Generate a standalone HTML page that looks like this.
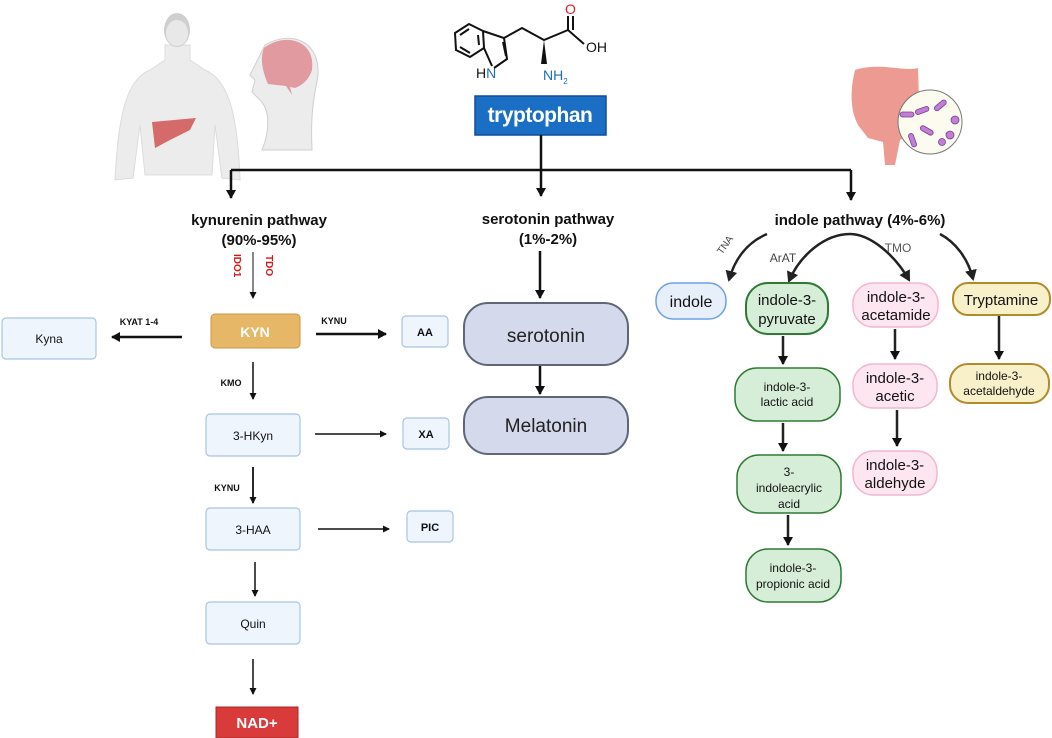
<!DOCTYPE html>
<html><head><meta charset="utf-8"><style>
html,body{margin:0;padding:0;background:#fff;}
svg{display:block;}
text{font-family:"Liberation Sans",sans-serif;}
</style></head><body>
<svg width="1052" height="738" viewBox="0 0 1052 738" xmlns="http://www.w3.org/2000/svg">
<defs>
<marker id="ah" markerWidth="10" markerHeight="10" refX="8" refY="5" orient="auto" markerUnits="userSpaceOnUse"><path d="M0,0 L9,5 L0,10 z" fill="#111"/></marker>
<marker id="as" markerWidth="7" markerHeight="7" refX="6" refY="3.5" orient="auto" markerUnits="userSpaceOnUse"><path d="M0,0 L7,3.5 L0,7 z" fill="#111"/></marker>
<marker id="ag" markerWidth="12" markerHeight="12" refX="9" refY="6" orient="auto" markerUnits="userSpaceOnUse"><path d="M0,0 L11,6 L0,12 z" fill="#222"/></marker>
</defs>

<!-- human figure -->
<g fill="#ececec" stroke="#dcdcdc">
<path d="M115,180 C118,120 125,80 150,70 L165,60 L165,45 L190,45 L190,60 L205,70 C230,80 238,120 240,180 L222,178 L215,125 L212,175 L145,175 L140,125 L133,178 Z"/>
</g>
<ellipse cx="177" cy="30" rx="13" ry="17" fill="#cfcfcf"/>
<ellipse cx="177" cy="33" rx="11" ry="13" fill="#e8e8e8"/>
<path d="M152,122 L196,118 L190,130 L170,140 L155,148 Z" fill="#d46a6a"/>
<!-- side head -->
<path d="M265,45 C290,30 320,40 318,75 C316,90 310,105 312,150 L262,150 C270,130 270,110 260,100 L252,92 L255,80 L250,75 Z" fill="#ececec" stroke="#cfcfcf"/>
<path d="M264,48 C285,32 316,40 312,70 C308,82 300,86 295,88 L290,87 L292,95 L286,86 L268,84 C262,70 260,58 264,48 Z" fill="#e09aa0"/>

<!-- molecule -->
<g stroke="#111" stroke-width="2" fill="none">
<path d="M455,33 L469,24 L483,31 L484,48 L470,57 L456,50 Z"/>
<path d="M460,35 L469,29 M478,35 L479,45 M460,47 L470,53"/>
<path d="M483,31 L504,38 L507,59 L494,68 M484,48 L492,66"/>
<path d="M503,42 L506,56"/>
<path d="M504,38 L522,28 L544,40 L568,30 L584,44 M568,30 L568,16 M573,30 L573,16"/>
</g>
<path d="M544,40 L547,64 L541,64 Z" fill="#111"/>
<text x="476" y="78" font-size="14" fill="#111">H<tspan fill="#1b6fb5">N</tspan></text>
<text x="543" y="80" font-size="14" fill="#1b6fb5">NH<tspan font-size="8" dy="4">2</tspan></text>
<text x="565" y="14" font-size="14" fill="#e02020">O</text>
<text x="586" y="52" font-size="14" fill="#111">OH</text>

<!-- tryptophan -->
<rect x="475" y="96" width="131" height="39" fill="#1a6fc4" stroke="#0e4f96" stroke-width="1.5"/>
<text x="540" y="122" font-size="21" font-weight="bold" fill="#fff" text-anchor="middle" letter-spacing="-0.5">tryptophan</text>

<!-- gut -->
<path d="M855,70 C880,62 905,72 918,68 L920,130 L900,140 L895,165 L885,165 L883,142 L868,138 L858,125 C850,110 850,90 855,70 Z" fill="#ec9a92"/>
<circle cx="930" cy="122" r="32" fill="#fbfbf0" stroke="#777" stroke-width="1"/>
<g fill="#c07fd2" stroke="#7a4090" stroke-width="0.8">
<rect x="915" y="108" width="14" height="5" rx="2.5" transform="rotate(-20 922 110)"/>
<rect x="933" y="103" width="14" height="5" rx="2.5" transform="rotate(-40 940 105)"/>
<rect x="920" y="128" width="14" height="5" rx="2.5" transform="rotate(30 927 130)"/>
<rect x="906" y="138" width="14" height="5" rx="2.5" transform="rotate(70 913 140)"/>
<rect x="900" y="112" width="14" height="5" rx="2.5"/>
<circle cx="950" cy="135" r="4"/><circle cx="955" cy="120" r="4"/><circle cx="942" cy="142" r="3.5"/>
</g>

<!-- main connectors -->
<g stroke="#111" stroke-width="2.5" fill="none">
<path d="M541,135 L541,196" marker-end="url(#ah)"/>
<path d="M231,170 L851,170"/>
<path d="M231,170 L231,198" marker-end="url(#ah)"/>
<path d="M851,170 L851,200" marker-end="url(#ah)"/>
</g>

<g font-size="15" font-weight="bold" fill="#111" text-anchor="middle">
<text x="259" y="225">kynurenin pathway</text>
<text x="259" y="245">(90%-95%)</text>
<text x="548" y="224">serotonin pathway</text>
<text x="548" y="244">(1%-2%)</text>
<text x="860" y="225">indole pathway (4%-6%)</text>
</g>

<!-- IDO1 / TDO -->
<text font-size="10" font-weight="bold" fill="#d01818" transform="translate(234,254) rotate(90)">IDO1</text>
<text font-size="10" font-weight="bold" fill="#d01818" transform="translate(266,255) rotate(90)">TDO</text>
<path d="M253,252 L253,298" stroke="#111" stroke-width="1" marker-end="url(#as)"/>

<!-- kynurenine boxes -->
<g stroke="#a9c4e6" stroke-width="1.2" fill="#eef5fd">
<rect x="2" y="318" width="94" height="41" rx="4"/>
<rect x="402" y="316" width="46" height="31" rx="4"/>
<rect x="206" y="414" width="94" height="42" rx="4"/>
<rect x="403" y="418" width="46" height="31" rx="4"/>
<rect x="206" y="508" width="94" height="42" rx="4"/>
<rect x="407" y="511" width="46" height="31" rx="4"/>
<rect x="206" y="602" width="94" height="42" rx="4"/>
</g>
<rect x="211" y="314" width="89" height="34" rx="4" fill="#e6b767" stroke="#c9974a"/>
<text x="255" y="337" font-size="14" font-weight="bold" fill="#fff" text-anchor="middle">KYN</text>
<rect x="216" y="707" width="82" height="31" fill="#d93a3a" stroke="#a82828"/>
<text x="257" y="728" font-size="15" font-weight="bold" fill="#fff" text-anchor="middle">NAD+</text>

<g font-size="12" fill="#111" text-anchor="middle">
<text x="49" y="343">Kyna</text>
<text x="253" y="440">3-HKyn</text>
<text x="253" y="534">3-HAA</text>
<text x="253" y="628">Quin</text>
</g>
<g font-size="11" font-weight="bold" fill="#111" text-anchor="middle">
<text x="425" y="336">AA</text>
<text x="426" y="438">XA</text>
<text x="430" y="531">PIC</text>
</g>
<g font-size="9" font-weight="bold" fill="#111" text-anchor="middle">
<text x="139" y="325">KYAT 1-4</text>
<text x="334" y="324">KYNU</text>
<text x="231" y="386">KMO</text>
<text x="227" y="491">KYNU</text>
</g>

<g stroke="#111" fill="none">
<path d="M182,337 L112,337" stroke-width="2.5" marker-end="url(#ah)"/>
<path d="M316,334 L386,334" stroke-width="2.5" marker-end="url(#ah)"/>
<path d="M253,362 L253,399" stroke-width="1.5" marker-end="url(#as)"/>
<path d="M315,434 L386,434" stroke-width="1.5" marker-end="url(#as)"/>
<path d="M253,467 L253,503" stroke-width="1.8" marker-end="url(#as)"/>
<path d="M318,529 L389,529" stroke-width="1.5" marker-end="url(#as)"/>
<path d="M255,562 L255,596" stroke-width="1.5" marker-end="url(#as)"/>
<path d="M253,659 L253,694" stroke-width="1.5" marker-end="url(#as)"/>
</g>

<!-- serotonin -->
<rect x="464" y="303" width="164" height="62" rx="24" fill="#d5d9ec" stroke="#5e6678" stroke-width="2"/>
<text x="546" y="342" font-size="19" fill="#222" text-anchor="middle">serotonin</text>
<path d="M540,251 L540,298" stroke="#111" stroke-width="2.5" marker-end="url(#ah)"/>
<path d="M540,366 L540,394" stroke="#111" stroke-width="2.5" marker-end="url(#ah)"/>
<rect x="464" y="397" width="164" height="57" rx="24" fill="#d5d9ec" stroke="#5e6678" stroke-width="2"/>
<text x="546" y="432" font-size="19" fill="#222" text-anchor="middle">Melatonin</text>

<!-- indole curves -->
<g stroke="#222" stroke-width="2.5" fill="none">
<path d="M767,234 C748,242 735,258 729,280" marker-end="url(#ag)"/>
<path d="M850,234 C825,234 800,255 789,281" marker-end="url(#ag)"/>
<path d="M850,234 C870,234 895,255 909,280" marker-end="url(#ag)"/>
<path d="M940,234 C955,242 968,258 973,279" marker-end="url(#ag)"/>
</g>
<text font-size="10" fill="#444" transform="translate(722,255) rotate(-55)">TNA</text>
<text x="783" y="262" font-size="12" fill="#444" text-anchor="middle">ArAT</text>
<text x="898" y="252" font-size="12" fill="#555" text-anchor="middle">TMO</text>

<!-- indole boxes -->
<rect x="656" y="283" width="70" height="36" rx="17" fill="#e6effa" stroke="#6e9fe6" stroke-width="1.5"/>
<text x="691" y="307" font-size="16" fill="#111" text-anchor="middle">indole</text>

<g fill="#d6eed8" stroke="#2e7a34">
<rect x="746" y="283" width="82" height="51" rx="22" stroke-width="2"/>
<rect x="735" y="368" width="105" height="53" rx="22" stroke-width="1.5"/>
<rect x="737" y="455" width="104" height="58" rx="22" stroke-width="1.5"/>
<rect x="746" y="549" width="95" height="53" rx="22" stroke-width="1.5"/>
</g>
<g font-size="15" fill="#111" text-anchor="middle">
<text x="787" y="305">indole-3-</text>
<text x="787" y="324">pyruvate</text>
</g>
<g font-size="12" fill="#111" text-anchor="middle">
<text x="787" y="391">indole-3-</text>
<text x="787" y="406">lactic acid</text>
<text x="789" y="476">3-</text>
<text x="789" y="492">indoleacrylic</text>
<text x="789" y="508">acid</text>
<text x="793" y="572">indole-3-</text>
<text x="793" y="588">propionic acid</text>
</g>
<g stroke="#222" stroke-width="2.5">
<path d="M783,336 L783,364" marker-end="url(#ah)"/>
<path d="M783,423 L783,451" marker-end="url(#ah)"/>
<path d="M788,515 L788,545" marker-end="url(#ah)"/>
</g>

<g fill="#fde6ef" stroke="#f3b6cf" stroke-width="1.5">
<rect x="853" y="283" width="85" height="44" rx="20"/>
<rect x="853" y="364" width="84" height="44" rx="20"/>
<rect x="853" y="451" width="84" height="44" rx="20"/>
</g>
<g font-size="15" fill="#111" text-anchor="middle">
<text x="896" y="302">indole-3-</text>
<text x="896" y="320">acetamide</text>
<text x="895" y="383">indole-3-</text>
<text x="895" y="401">acetic</text>
<text x="895" y="470">indole-3-</text>
<text x="895" y="488">aldehyde</text>
</g>
<g stroke="#222" stroke-width="2.5">
<path d="M895,329 L895,359" marker-end="url(#ah)"/>
<path d="M897,410 L897,446" marker-end="url(#ah)"/>
<path d="M999,315 L999,359" marker-end="url(#ah)"/>
</g>

<rect x="953" y="283" width="97" height="32" rx="15" fill="#f8f0c8" stroke="#b38a2a" stroke-width="2"/>
<text x="1001" y="305" font-size="15" fill="#111" text-anchor="middle">Tryptamine</text>
<rect x="950" y="364" width="99" height="39" rx="18" fill="#f8f0c8" stroke="#b38a2a" stroke-width="2"/>
<text x="999" y="380" font-size="12" fill="#111" text-anchor="middle">indole-3-</text>
<text x="999" y="395" font-size="12" fill="#111" text-anchor="middle">acetaldehyde</text>
</svg>
</body></html>
